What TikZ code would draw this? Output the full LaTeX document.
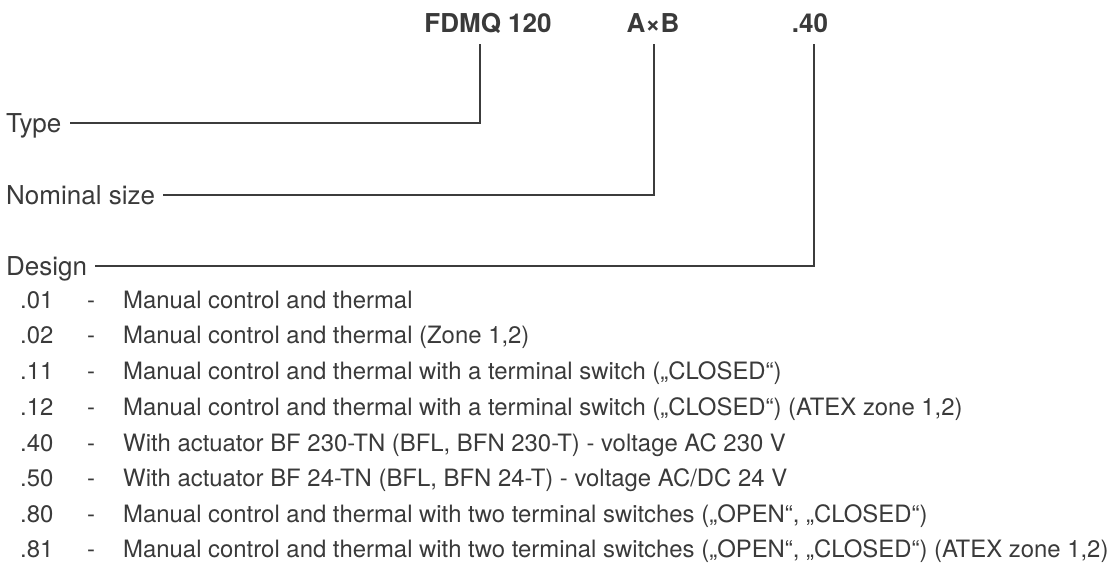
\documentclass[tikz,border=0pt]{standalone}
\usepackage{fontspec}
\setmainfont{TeX Gyre Heros}
\usepackage{tikz}
\definecolor{inkgray}{RGB}{58,58,58}
\definecolor{linegray}{RGB}{60,60,60}
\tikzset{
    hdrtext/.style={font=\fontsize{26}{30}\selectfont\bfseries, text=inkgray,
                    inner sep=0pt, anchor=base},
    fieldlbl/.style={font=\fontsize{26}{30}\selectfont, text=inkgray, inner sep=0pt,
                     text height=18.5pt, text depth=0pt, anchor=west},
    leader/.style={draw=linegray, line width=1.5pt, shorten >=8pt},
    codetxt/.style={font=\fontsize{23.9}{30}\selectfont, text=inkgray,
                    inner sep=0pt, anchor=base west},
}

\begin{document}
\begin{tikzpicture}[x=1pt, y=-1pt]
    \useasboundingbox (0,0) rectangle (1116,565);
    % type code
    \node[hdrtext] (hdrtype) at (488,32) {FDMQ 120};
    \node[hdrtext] (hdrsize) at (653,32) {A×B};
    \node[hdrtext] (hdrdesign) at (810,32) {.40};
    \coordinate (ticktype) at (480,44);
    \coordinate (ticksize) at (654,44);
    \coordinate (tickdesign) at (814,44);
    % fields
    \node[fieldlbl] (lbltype) at (6,123) {Type};
    \node[fieldlbl] (lblsize) at (6,195) {Nominal size};
    \node[fieldlbl] (lbldesign) at (6,266) {Design};
    \draw[leader] (ticktype) |- (lbltype.east);
    \draw[leader] (ticksize) |- (lblsize.east);
    \draw[leader] (tickdesign) |- (lbldesign.east);
    % design variants
    \node[codetxt] (c01) at (20,308) {.01};
    \node[codetxt] (d01) at (87,308) {-};
    \node[codetxt] (t01) at (123,308) {Manual control and thermal};
    \node[codetxt] (c02) at (20,343.5) {.02};
    \node[codetxt] (d02) at (87,343.5) {-};
    \node[codetxt] (t02) at (123,343.5) {Manual control and thermal (Zone 1,2)};
    \node[codetxt] (c11) at (20,379.5) {.11};
    \node[codetxt] (d11) at (87,379.5) {-};
    \node[codetxt] (t11) at (123,379.5) {Manual control and thermal with a terminal switch („CLOSED“)};
    \node[codetxt] (c12) at (20,415) {.12};
    \node[codetxt] (d12) at (87,415) {-};
    \node[codetxt] (t12) at (123,415) {Manual control and thermal with a terminal switch („CLOSED“) (ATEX zone 1,2)};
    \node[codetxt] (c40) at (20,451) {.40};
    \node[codetxt] (d40) at (87,451) {-};
    \node[codetxt] (t40) at (123,451) {With actuator BF 230-TN (BFL, BFN 230-T) - voltage AC 230 V};
    \node[codetxt] (c50) at (20,486.5) {.50};
    \node[codetxt] (d50) at (87,486.5) {-};
    \node[codetxt] (t50) at (123,486.5) {With actuator BF 24-TN (BFL, BFN 24-T) - voltage AC/DC 24 V};
    \node[codetxt] (c80) at (20,522) {.80};
    \node[codetxt] (d80) at (87,522) {-};
    \node[codetxt] (t80) at (123,522) {Manual control and thermal with two terminal switches („OPEN“, „CLOSED“)};
    \node[codetxt] (c81) at (20,557.5) {.81};
    \node[codetxt] (d81) at (87,557.5) {-};
    \node[codetxt] (t81) at (123,557.5) {Manual control and thermal with two terminal switches („OPEN“, „CLOSED“) (ATEX zone 1,2)};
\end{tikzpicture}
\end{document}
